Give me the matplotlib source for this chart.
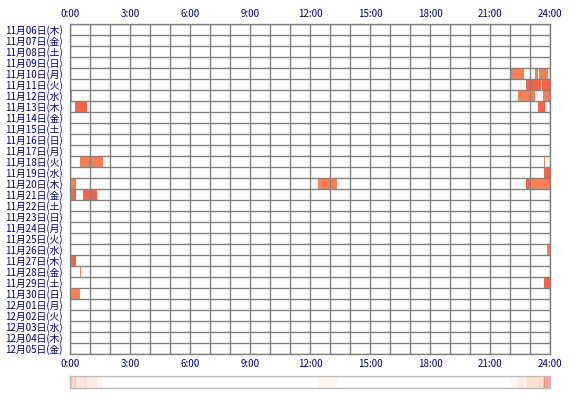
import numpy as np
import pandas as pd
import matplotlib
matplotlib.use('Agg')
import matplotlib.pyplot as plt
from matplotlib.colors import LinearSegmentedColormap

plt.rcParams['font.family'] = ['Noto Sans CJK JP', 'DejaVu Sans']

# days shown (rows)
days = pd.date_range('2025-11-06', '2025-12-05')
weekdays = ['月', '火', '水', '木', '金', '土', '日']
day_labels = ['{}月{:02d}日({})'.format(d.month, d.day, weekdays[d.weekday()]) for d in days]

# activity blocks: day label, start, end, level (1 = coral, 2 = tomato)
ev_day = ['11/10', '11/10', '11/10',
          '11/11', '11/11', '11/11',
          '11/12', '11/12', '11/12',
          '11/13', '11/13', '11/13',
          '11/18', '11/18',
          '11/19',
          '11/20', '11/20', '11/20', '11/20',
          '11/21', '11/21',
          '11/26', '11/27', '11/28', '11/29', '11/30']
ev_start = ['22:02', '23:15', '23:27',
            '22:48', '23:03', '23:36',
            '0:00', '22:24', '23:38',
            '0:00', '0:15', '23:23',
            '0:30', '23:42',
            '23:42',
            '0:00', '12:24', '22:48', '23:02',
            '0:00', '0:39',
            '23:51', '0:00', '0:30', '23:42', '0:00']
ev_end = ['22:42', '23:24', '23:54',
          '23:02', '23:33', '24:00',
          '0:06', '23:14', '24:00',
          '0:03', '0:51', '23:44',
          '1:38', '23:45',
          '24:00',
          '0:18', '13:21', '23:02', '24:00',
          '0:18', '1:20',
          '24:00', '0:18', '0:33', '24:00', '0:30']
ev_level = [1, 1, 1,
            2, 2, 2,
            1, 1, 1,
            1, 2, 2,
            1, 1,
            2,
            1, 1, 2, 1,
            2, 2,
            1, 2, 1, 2, 1]

hour_ticks = [0, 3, 6, 9, 12, 15, 18, 21, 24]


def to_min(s):
    h, m = s.split(':')
    return int(h) * 60 + int(m)


row_of = {'{}/{:02d}'.format(d.month, d.day): i for i, d in enumerate(days)}
colors = {1: '#ff7f50', 2: '#ff6045'}
navy = '#000080'
grid_col = '#808080'

fig = plt.figure(figsize=(5.7, 4.0), dpi=100)
ax = fig.add_axes([70 / 570, (400 - 354) / 400, 480 / 570, 330 / 400])

for d, s, e, lv in zip(ev_day, ev_start, ev_end, ev_level):
    a, b = to_min(s), to_min(e)
    ax.broken_barh([(a, b - a)], (row_of[d], 1), facecolor=colors[lv], edgecolor='none')

ax.set_xlim(0, 1440)
ax.set_ylim(len(days), 0)
ax.set_xticks(np.arange(0, 1441, 60))
ax.set_yticks(np.arange(0, len(days) + 1))
ax.grid(True, color=grid_col, linewidth=1.0)
ax.set_axisbelow(False)
ax.tick_params(which='major', length=0, labelbottom=False, labelleft=False)
for sp in ax.spines.values():
    sp.set_color(grid_col)
    sp.set_linewidth(1.0)

# labels via minor ticks
ax.set_yticks(np.arange(len(days)) + 0.5, minor=True)
ax.set_yticklabels(day_labels, minor=True)
ax.tick_params(axis='y', which='minor', length=0, pad=5, labelsize=7, labelcolor=navy)

ax_top = ax.secondary_xaxis('top')
ax_top.set_xticks([h * 60 for h in hour_ticks])
ax_top.set_xticklabels(['{}:00'.format(h) for h in hour_ticks])
ax_top.tick_params(length=0, pad=3.5, labelsize=7, labelcolor=navy)
ax_top.spines['top'].set_visible(False)

ax_bot = ax.secondary_xaxis('bottom')
ax_bot.set_xticks([h * 60 for h in hour_ticks])
ax_bot.set_xticklabels(['{}:00'.format(h) for h in hour_ticks])
ax_bot.tick_params(length=0, pad=3.5, labelsize=7, labelcolor=navy)
ax_bot.spines['bottom'].set_visible(False)

# summary strip: how often each minute of the day is active
counts = np.zeros(1440)
for s, e in zip(ev_start, ev_end):
    counts[to_min(s):to_min(e)] += 1
cmap = LinearSegmentedColormap.from_list('strip', ['#ffffff', '#ffd9c8', '#ff8478'])
ax2 = fig.add_axes([70 / 570, (400 - 388) / 400, 480 / 570, 12 / 400])
ax2.imshow(counts[np.newaxis, :], aspect='auto', cmap=cmap, vmin=0, vmax=counts.max(),
           extent=(0, 1440, 0, 1), interpolation='nearest')
ax2.set_xticks([])
ax2.set_yticks([])
for sp in ax2.spines.values():
    sp.set_color('#bbbbbb')
    sp.set_linewidth(1.0)

fig.savefig('out.png', dpi=100)
